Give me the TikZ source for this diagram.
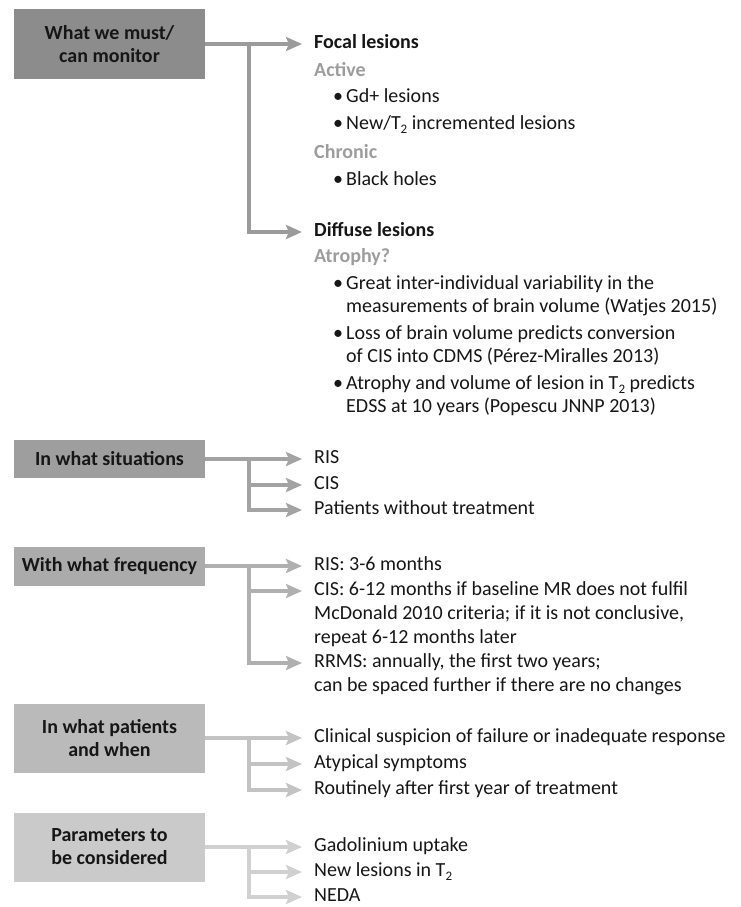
\documentclass[tikz,border=0pt]{standalone}
\usepackage{fontspec}
\setmainfont{Carlito}
\usetikzlibrary{arrows.meta}
\definecolor{boxA}{HTML}{8C8C8C}
\definecolor{boxB}{HTML}{9E9E9E}
\definecolor{boxC}{HTML}{ABABAB}
\definecolor{boxD}{HTML}{BABABA}
\definecolor{boxE}{HTML}{CACACA}
\definecolor{arrA}{HTML}{9B9B9B}
\definecolor{arrB}{HTML}{A3A3A3}
\definecolor{arrC}{HTML}{B0B0B0}
\definecolor{arrD}{HTML}{C3C3C3}
\definecolor{arrE}{HTML}{D0D0D0}
\definecolor{subgray}{HTML}{9D9D9D}
\definecolor{ink}{HTML}{161616}
\tikzset{
  box/.style={fill=#1, minimum width=191pt, align=center, inner sep=0pt,
    text=ink, font=\bfseries\fontsize{20}{23}\selectfont},
  ln/.style={anchor=west, inner sep=0pt, text height=14pt, text depth=5pt,
    text=ink, font=\fontsize{20}{23}\selectfont},
  hd/.style={ln, font=\bfseries\fontsize{20}{23}\selectfont},
  sub/.style={ln, text=subgray, font=\bfseries\fontsize{20}{23}\selectfont},
  arr/.style={draw=#1, line width=3.8pt, shorten >=12pt,
    -{Stealth[length=16pt,width=14pt,inset=3pt,fill=#1]}},
}
\newcommand{\bul}{\makebox[16pt][c]{•}}
\newcommand{\lowsub}[1]{\raisebox{-4pt}{\fontsize{13}{13}\selectfont #1}}
\begin{document}
\begin{tikzpicture}[x=1pt,y=-1pt]
\useasboundingbox (0,0) rectangle (740,907);
% ---------- section 1
\node[box=boxA, minimum height=69pt] (b1) at (109.5,44) {What we must/\\can monitor};
\node[hd] (f1) at (314,44) {Focal lesions};
\node[sub] (a1) at (314,72) {Active};
\node[ln] (g1) at (330,98) {\bul Gd+ lesions};
\node[ln] (g2) at (330,125) {\bul New/T\lowsub{2} incremented lesions};
\node[sub] (c1) at (314,154) {Chronic};
\node[ln] (bh) at (330,181) {\bul Black holes};
\node[hd] (d1) at (314,232) {Diffuse lesions};
\node[sub] (at) at (314,258) {Atrophy?};
\node[ln] (l1) at (330,285) {\bul Great inter-individual variability in the};
\node[ln] (l2) at (346,308) {measurements of brain volume (Watjes 2015)};
\node[ln] (l3) at (330,335) {\bul Loss of brain volume predicts conversion};
\node[ln] (l4) at (346,358) {of CIS into CDMS (Pérez-Miralles 2013)};
\node[ln] (l5) at (330,385) {\bul Atrophy and volume of lesion in T\lowsub{2} predicts};
\node[ln] (l6) at (346,408) {EDSS at 10 years (Popescu JNNP 2013)};
\coordinate (j1) at (249,44);
\draw[arr=arrA] (b1.east) -- (f1.west);
\draw[arr=arrA] (j1) |- (d1.west);
% ---------- section 2
\node[box=boxB, minimum height=38pt] (b2) at (109.5,459) {In what situations};
\node[ln] (s21) at (314,459) {RIS};
\node[ln] (s22) at (314,485) {CIS};
\node[ln] (s23) at (314,510) {Patients without treatment};
\coordinate (j2) at (249,459);
\draw[arr=arrB] (b2.east) -- (s21.west);
\draw[arr=arrB] (j2) |- (s22.west);
\draw[arr=arrB] (j2) |- (s23.west);
% ---------- section 3
\node[box=boxC, minimum height=39pt] (b3) at (109.5,566) {With what frequency};
\node[ln] (s31) at (314,566) {RIS: 3-6 months};
\node[ln] (s32) at (314,591) {CIS: 6-12 months if baseline MR does not fulfil};
\node[ln] (s32b) at (314,615) {McDonald 2010 criteria; if it is not conclusive,};
\node[ln] (s32c) at (314,639) {repeat 6-12 months later};
\node[ln] (s33) at (314,663) {RRMS: annually, the first two years;};
\node[ln] (s33b) at (314,687) {can be spaced further if there are no changes};
\coordinate (j3) at (249,566);
\draw[arr=arrC] (b3.east) -- (s31.west);
\draw[arr=arrC] (j3) |- (s32.west);
\draw[arr=arrC] (j3) |- (s33.west);
% ---------- section 4
\node[box=boxD, minimum height=69pt] (b4) at (109.5,738) {In what patients\\and when};
\node[ln] (s41) at (314,738) {Clinical suspicion of failure or inadequate response};
\node[ln] (s42) at (314,764) {Atypical symptoms};
\node[ln] (s43) at (314,790) {Routinely after first year of treatment};
\coordinate (j4) at (249,738);
\draw[arr=arrD] (b4.east) -- (s41.west);
\draw[arr=arrD] (j4) |- (s42.west);
\draw[arr=arrD] (j4) |- (s43.west);
% ---------- section 5
\node[box=boxE, minimum height=69pt] (b5) at (109.5,847) {Parameters to\\be considered};
\node[ln] (s51) at (314,847) {Gadolinium uptake};
\node[ln] (s52) at (314,872) {New lesions in T\lowsub{2}};
\node[ln] (s53) at (314,897) {NEDA};
\coordinate (j5) at (249,847);
\draw[arr=arrE] (b5.east) -- (s51.west);
\draw[arr=arrE] (j5) |- (s52.west);
\draw[arr=arrE] (j5) |- (s53.west);
\end{tikzpicture}
\end{document}
